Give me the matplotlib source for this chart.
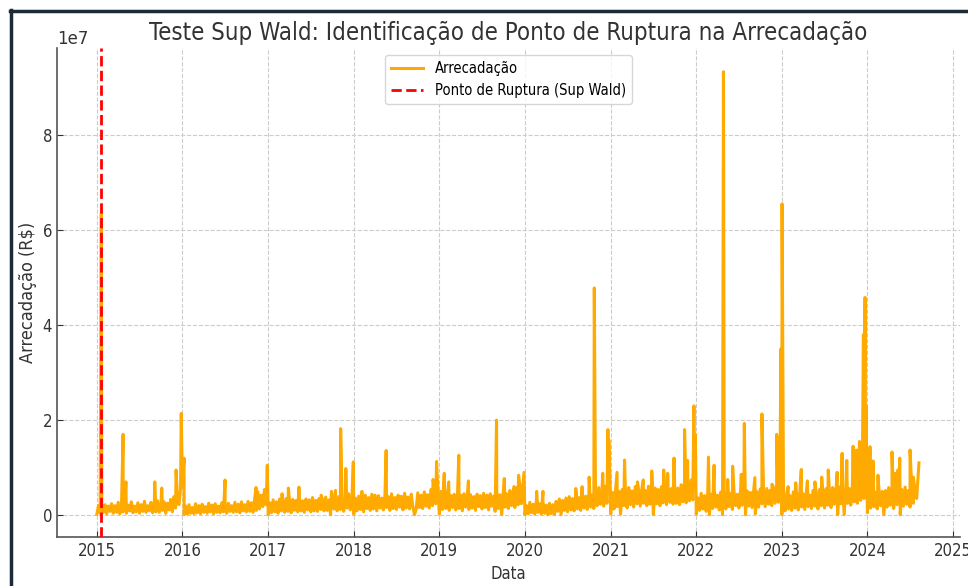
import matplotlib
matplotlib.use("Agg")
import matplotlib.pyplot as plt
import matplotlib.dates as mdates
from matplotlib.lines import Line2D
import numpy as np
import pandas as pd

# ---------------- data (values in millions of R$) ----------------
years = [2015, 2016, 2017, 2018, 2019, 2020, 2021, 2022, 2023, 2024]

v2015 = [0.2, 2.0, 0.4, 2.5, 0.6, 2.2, 0.3, 1.9, 0.8, 2.4, 0.4, 2.0, 0.6, 2.7, 0.3, 1.8, 0.7, 2.5, 0.4, 2.1,
         0.9, 2.8, 0.5, 1.9, 0.7, 2.6, 0.4, 2.2, 0.8, 2.9, 0.6, 2.0, 0.9, 2.7, 0.5, 2.3, 0.7, 3.0, 0.6, 2.1,
         1.0, 2.8, 0.4, 2.5, 1.1, 3.3, 0.7, 3.9, 1.5, 4.6, 2.2, 5.4]
v2016 = [6.0, 0.1, 1.9, 0.2, 2.2, 0.4, 1.6, 0.3, 2.4, 0.5, 2.0, 0.3, 2.3, 0.6, 1.8, 0.4, 2.5, 0.7, 2.1, 0.3,
         2.4, 0.6, 1.9, 0.5, 2.6, 0.7, 2.2, 0.4, 2.5, 0.8, 2.0, 0.6, 2.7, 0.7, 2.3, 0.5, 2.8, 0.9, 2.2, 0.7,
         2.9, 0.8, 2.6, 0.6, 3.4, 1.0, 4.9, 1.3, 4.2, 1.8, 5.4, 2.2]
v2017 = [0.1, 2.6, 0.5, 3.2, 0.7, 2.8, 0.4, 3.4, 0.9, 3.0, 0.6, 3.5, 0.8, 2.9, 0.5, 3.3, 1.0, 3.1, 0.7, 3.6,
         0.9, 3.0, 0.6, 3.4, 1.1, 3.2, 0.7, 3.7, 0.9, 3.1, 0.8, 3.5, 1.2, 3.3, 0.9, 3.8, 1.0, 3.2, 0.1, 3.6,
         1.3, 3.4, 0.9, 3.9, 1.2, 3.5, 0.8, 4.1, 1.5, 4.5, 1.1, 3.8]
v2018 = [0.2, 3.6, 0.9, 4.0, 1.2, 3.5, 0.7, 4.2, 1.4, 3.7, 1.0, 4.4, 1.3, 3.8, 0.9, 4.1, 1.5, 3.6, 1.1, 4.3,
         1.6, 3.9, 1.0, 4.5, 1.4, 3.7, 1.2, 4.2, 1.7, 4.0, 1.1, 4.6, 1.5, 3.8, 1.3, 4.4, 1.8, 0.1, 1.2, 4.7,
         1.6, 4.2, 1.4, 4.9, 1.9, 4.3, 1.5, 5.4, 2.0, 6.1, 2.4, 7.0]
v2019 = [0.2, 5.0, 1.2, 6.0, 1.4, 4.6, 1.0, 4.1, 1.6, 4.4, 1.1, 3.8, 1.4, 4.2, 0.9, 4.5, 1.7, 4.0, 1.2, 4.3,
         1.5, 3.9, 1.0, 4.4, 1.8, 4.1, 1.3, 4.6, 1.6, 4.2, 1.1, 4.5, 1.9, 4.0, 0.8, 4.8, 1.4, 4.3, 0.1, 5.0,
         1.7, 4.5, 1.4, 5.2, 2.0, 4.7, 1.6, 5.8, 2.2, 6.4, 2.4, 6.6]
v2020 = [0.1, 2.0, 0.3, 2.7, 0.5, 2.3, 0.2, 3.0, 0.6, 2.4, 0.2, 2.8, 0.4, 2.1, 0.1, 2.5, 0.3, 2.2, 0.1, 2.9,
         0.8, 3.4, 0.1, 3.1, 1.0, 3.6, 0.7, 3.9, 1.1, 3.5, 0.9, 4.1, 1.3, 3.7, 1.0, 4.4, 1.5, 4.0, 1.2, 4.6,
         1.7, 4.2, 1.4, 5.1, 2.0, 5.8, 2.3, 5.4, 1.9, 6.1, 2.5, 6.6]
v2021 = [0.2, 4.8, 1.3, 5.6, 1.8, 5.0, 0.2, 5.4, 2.0, 4.8, 1.5, 5.8, 2.2, 5.1, 1.7, 6.0, 2.4, 5.3, 1.9, 5.6,
         2.5, 5.2, 2.0, 6.1, 2.3, 5.5, 0.1, 5.7, 2.4, 5.4, 2.0, 6.0, 2.6, 5.5, 2.2, 5.9, 2.7, 5.6, 2.3, 6.2,
         2.5, 5.7, 2.2, 6.4, 2.8, 6.0, 2.6, 6.8, 3.0, 7.4, 3.2, 7.8]
v2022 = [0.2, 3.6, 1.0, 4.6, 1.3, 4.1, 0.8, 4.8, 0.1, 4.4, 1.4, 5.1, 1.7, 4.2, 1.1, 4.9, 0.1, 4.5, 1.3, 5.2,
         1.8, 4.6, 1.2, 5.0, 2.0, 4.4, 1.5, 5.3, 2.1, 4.7, 0.1, 5.1, 1.9, 4.8, 1.6, 5.4, 0.3, 4.9, 1.7, 5.5,
         2.4, 5.1, 1.8, 5.6, 2.3, 5.2, 2.0, 5.9, 2.5, 6.4, 2.7, 7.1]
v2023 = [0.1, 3.8, 0.9, 4.6, 1.3, 4.1, 1.0, 4.9, 1.5, 4.3, 1.1, 5.1, 1.7, 4.5, 1.2, 5.0, 1.8, 4.2, 1.4, 5.2,
         1.9, 4.6, 1.3, 5.4, 2.0, 4.8, 1.5, 5.6, 2.1, 5.0, 1.6, 5.8, 2.3, 5.2, 0.1, 5.9, 2.4, 5.4, 0.1, 6.1,
         2.5, 5.6, 2.1, 6.4, 2.8, 6.0, 2.5, 6.8, 3.1, 7.4, 3.5, 8.1]
v2024 = [0.5, 4.6, 1.5, 5.4, 1.8, 4.8, 1.3, 5.6, 2.0, 5.0, 0.1, 5.2, 1.7, 5.8, 2.1, 4.9, 1.4, 5.6, 2.2, 5.1,
         0.1, 5.4, 1.9, 5.9, 2.3, 5.2, 1.7, 5.7, 2.5, 5.3, 3.5]
weekly_values = [v2015, v2016, v2017, v2018, v2019, v2020, v2021, v2022, v2023, v2024]

spike_dates = [
    "2015-01-20", "2015-04-23", "2015-05-05", "2015-09-05", "2015-10-05", "2015-12-05", "2015-12-27",
    "2016-01-08", "2016-07-01", "2016-11-10", "2016-12-28",
    "2017-03-01", "2017-03-28", "2017-05-12", "2017-08-15", "2017-09-28", "2017-10-15", "2017-11-06",
    "2017-11-28", "2017-12-30",
    "2018-02-05", "2018-04-01", "2018-05-19", "2018-12-05", "2018-12-20",
    "2019-01-22", "2019-02-10", "2019-03-25", "2019-05-05", "2019-09-02", "2019-10-05", "2019-11-15",
    "2019-12-05", "2019-12-28",
    "2020-02-20", "2020-03-18", "2020-08-05", "2020-09-01", "2020-10-01", "2020-10-23", "2020-11-28",
    "2020-12-20", "2020-12-24",
    "2021-01-28", "2021-03-01", "2021-04-25", "2021-05-20", "2021-06-25", "2021-08-15", "2021-09-01",
    "2021-09-28", "2021-11-12", "2021-11-25", "2021-12-22", "2021-12-28",
    "2022-02-22", "2022-03-18", "2022-04-27", "2022-05-15", "2022-06-05", "2022-07-12", "2022-07-25",
    "2022-09-08", "2022-10-08", "2022-11-20", "2022-12-10", "2022-12-18", "2022-12-28",
    "2023-01-02", "2023-01-28", "2023-03-01", "2023-03-25", "2023-04-20", "2023-05-22", "2023-06-20",
    "2023-07-18", "2023-08-25", "2023-09-15", "2023-10-05", "2023-11-01", "2023-11-15", "2023-11-28",
    "2023-12-15", "2023-12-22", "2023-12-26",
    "2024-01-12", "2024-01-25", "2024-02-15", "2024-04-15", "2024-04-28", "2024-05-10", "2024-05-18",
    "2024-07-01", "2024-07-15", "2024-08-08",
]
spike_values = [
    63.5, 17.0, 7.0, 7.0, 5.7, 9.5, 21.4,
    12.0, 7.4, 5.8, 10.5,
    4.5, 5.7, 5.9, 4.2, 5.0, 5.2, 18.2,
    9.8, 11.2,
    5.0, 4.2, 13.6, 7.5, 11.3,
    8.8, 7.0, 12.6, 7.2, 20.0, 7.7, 6.0,
    8.4, 9.0,
    5.0, 5.0, 5.6, 6.0, 8.0, 47.8, 8.8,
    18.0, 15.8,
    9.0, 11.6, 7.0, 7.4, 9.3, 9.5, 8.8,
    12.0, 18.0, 11.5, 23.0, 17.0,
    12.2, 10.5, 93.3, 7.5, 10.3, 8.6, 19.3,
    7.9, 21.3, 6.5, 17.0, 16.3, 35.0,
    65.5, 6.0, 6.8, 9.6, 7.2, 7.0, 8.0,
    9.5, 9.0, 13.0, 11.5, 14.5, 13.7, 15.5,
    38.0, 45.8, 23.0,
    14.4, 11.4, 8.4, 13.3, 8.8, 9.5, 12.0,
    13.7, 8.0, 11.0,
]

break_date = "2015-01-20"

# ---------------- build series ----------------
parts = []
for yr, vals in zip(years, weekly_values):
    idx = pd.date_range(f"{yr}-01-01", periods=len(vals), freq="7D")
    parts.append(pd.Series(np.array(vals) * 1e6, index=idx))
parts.append(pd.Series(np.array(spike_values) * 1e6, index=pd.to_datetime(spike_dates)))
serie = pd.concat(parts).sort_index()

# ---------------- figure ----------------
W, H = 968, 586
fig = plt.figure(figsize=(W / 100, H / 100), dpi=100)
plt.rcParams['font.family'] = ['DejaVu Sans']

ax = fig.add_axes([57 / W, 1 - 537 / H, (960 - 57) / W, (537 - 48) / H])

ax.plot(serie.index, serie.values, color="#FFAA00", lw=2.2, label="Arrecadação", zorder=2)
ax.axvline(pd.Timestamp(break_date), color="red", ls="--", lw=2.0,
           label="Ponto de Ruptura (Sup Wald)", zorder=3)

ax.set_xlim(pd.Timestamp("2014-07-15"), pd.Timestamp("2025-01-30"))
ax.set_ylim(-0.46e7, 9.83e7)
ax.xaxis.set_major_locator(mdates.YearLocator())
ax.xaxis.set_major_formatter(mdates.DateFormatter("%Y"))
ax.set_yticks([0, 2e7, 4e7, 6e7, 8e7])

stretch = "condensed"
ax.set_title("Teste Sup Wald: Identificação de Ponto de Ruptura na Arrecadação",
             fontsize=17.2, color="#333333", pad=6, fontstretch=stretch)
ax.set_xlabel("Data", fontsize=12, color="#333333", fontstretch=stretch)
ax.set_ylabel("Arrecadação (R$)", fontsize=13, color="#333333", fontstretch=stretch)
ax.tick_params(axis="both", labelsize=12, colors="#333333", direction="in", length=4)
for lab in ax.get_xticklabels() + ax.get_yticklabels():
    lab.set_fontstretch(stretch)
ax.yaxis.get_offset_text().set_fontsize(12)
ax.yaxis.get_offset_text().set_color("#333333")

ax.grid(True, ls="--", color="#cccccc", lw=0.8)
ax.set_axisbelow(True)
for s in ["top", "right"]:
    ax.spines[s].set_visible(False)
for s in ["left", "bottom"]:
    ax.spines[s].set_color("#555555")
    ax.spines[s].set_linewidth(1.2)

leg = ax.legend(loc="upper center", bbox_to_anchor=(0.5, 1.0), frameon=True,
                handlelength=2.2, prop={"size": 10.5, "stretch": stretch})
leg.get_frame().set_edgecolor("#cccccc")

# screenshot border (dark frame at left and top)
fig.add_artist(Line2D([10.5 / W, 10.5 / W], [0, 1 - 10 / H], transform=fig.transFigure,
                      color="#1c2b3a", lw=2.5))
fig.add_artist(Line2D([10 / W, 1], [1 - 10.5 / H, 1 - 10.5 / H], transform=fig.transFigure,
                      color="#1c2b3a", lw=2.5))

fig.savefig("out.png", dpi=100)
